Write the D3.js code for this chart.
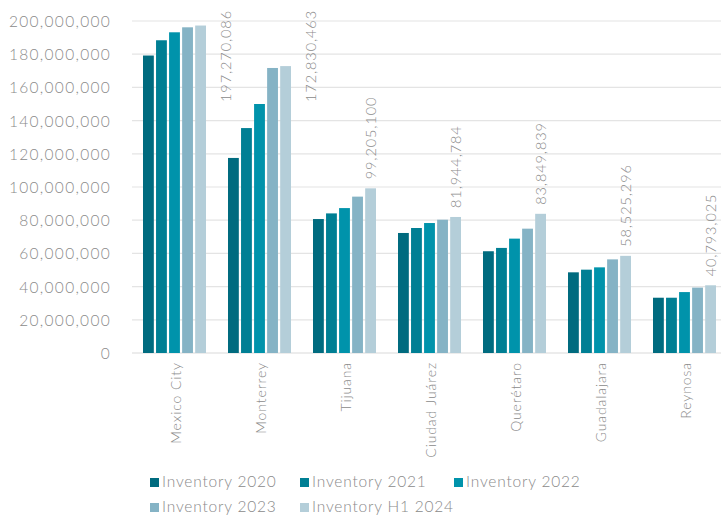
<!DOCTYPE html>
<html><head><meta charset="utf-8">
<script src="https://cdn.jsdelivr.net/npm/d3@7"></script>
<style>
body{margin:0;background:#fff;}
text{font-family:Lato,"Open Sans",sans-serif;font-weight:300;fill:#8a8a8a;}
</style></head><body>
<svg id="chart" width="726" height="516"></svg>
<script>
const categories = ["Mexico City","Monterrey","Tijuana","Ciudad Juárez","Querétaro","Guadalajara","Reynosa"];
const seriesNames = ["Inventory 2020","Inventory 2021","Inventory 2022","Inventory 2023","Inventory H1 2024"];
const inv2020 = [179200000,117500000,80700000,72300000,61300000,48600000,33300000];
const inv2021 = [188400000,135500000,84100000,75300000,63300000,50200000,33300000];
const inv2022 = [193200000,150000000,87300000,78300000,68900000,51600000,36700000];
const inv2023 = [196200000,171700000,94200000,80300000,74900000,56400000,39400000];
const invH12024 = [197270086,172830463,99205100,81944784,83849839,58525296,40793025];
const yTicks = [0,20000000,40000000,60000000,80000000,100000000,120000000,140000000,160000000,180000000,200000000];
const colors = ["#006b7f","#007f94","#0093ab","#85b3c5","#b4ced9"];

const seriesValues = [inv2020,inv2021,inv2022,inv2023,invH12024];
const svg = d3.select("#chart");
const x0 = d3.scaleBand().domain(categories).range([132,727]);
const x1 = d3.scaleBand().domain(seriesNames).range([-31.5,31.5]).paddingInner(0.17);
const y = d3.scaleLinear().domain([0,200000000]).range([353,21]);
const fmt = d3.format(",");

// gridlines
svg.append("g").selectAll("line").data(yTicks).join("line")
  .attr("x1",132).attr("x2",721)
  .attr("y1",d=>y(d)).attr("y2",d=>y(d))
  .attr("stroke",d=>d===0?"#d9d9d9":"#e4e4e4").attr("stroke-width",1.2);

// y axis
const yAxis = d3.axisLeft(y).tickValues(yTicks).tickFormat(fmt).tickSize(0).tickPadding(0);
const ya = svg.append("g").attr("transform","translate(111,0)").call(yAxis);
ya.select(".domain").remove();
ya.selectAll("text").style("font-size","15.5px").style("letter-spacing","1.3px")
  .attr("dy","0.35em").attr("fill","#8a8a8a");

// bars
const groups = svg.append("g").selectAll("g").data(categories).join("g")
  .attr("transform",c=>`translate(${x0(c)+x0.bandwidth()/2},0)`);
seriesNames.forEach((s,si)=>{
  groups.append("rect")
    .attr("x",x1(s)).attr("width",x1.bandwidth())
    .attr("y",(c,i)=>y(seriesValues[si][i]))
    .attr("height",(c,i)=>y(0)-y(seriesValues[si][i]))
    .attr("fill",colors[si]);
});

// value labels on last series
const last = seriesNames[seriesNames.length-1];
groups.each(function(c,i){
  const g = d3.select(this);
  const v = invH12024[i];
  const bx = x1(last)+x1.bandwidth()/2;
  const t = g.append("text").text(fmt(v)).style("font-size","14.5px").style("letter-spacing","0.9px")
    .attr("text-anchor","start");
  const len = t.node().getComputedTextLength();
  let sy = y(v)-9, sx = bx;
  if (sy-len < 10){ sy = 10+len; sx = bx+25; }
  t.attr("transform",`translate(${sx+5},${sy}) rotate(-90)`);
});

// category labels
const xAxis = d3.axisBottom(x0).tickSize(0).tickPadding(0);
const xa = svg.append("g").attr("transform","translate(0,362)").call(xAxis);
xa.select(".domain").remove();
xa.selectAll("text").style("font-size","14px").style("letter-spacing","0.9px").attr("fill","#8a8a8a")
  .attr("text-anchor","end").attr("dy",null)
  .attr("transform","translate(6,0) rotate(-90)");

// legend
const legendPos = [[150,478],[300,478],[454,478],[150,503],[300,503]];
const lg = svg.append("g").selectAll("g").data(seriesNames).join("g")
  .attr("transform",(d,i)=>`translate(${legendPos[i][0]},${legendPos[i][1]})`);
lg.append("rect").attr("width",9).attr("height",9).attr("fill",(d,i)=>colors[i]);
lg.append("text").attr("x",12).attr("y",9).text(d=>d).style("font-size","15.5px").style("letter-spacing","0.8px").attr("fill","#8a8a8a");
</script>
</body></html>
